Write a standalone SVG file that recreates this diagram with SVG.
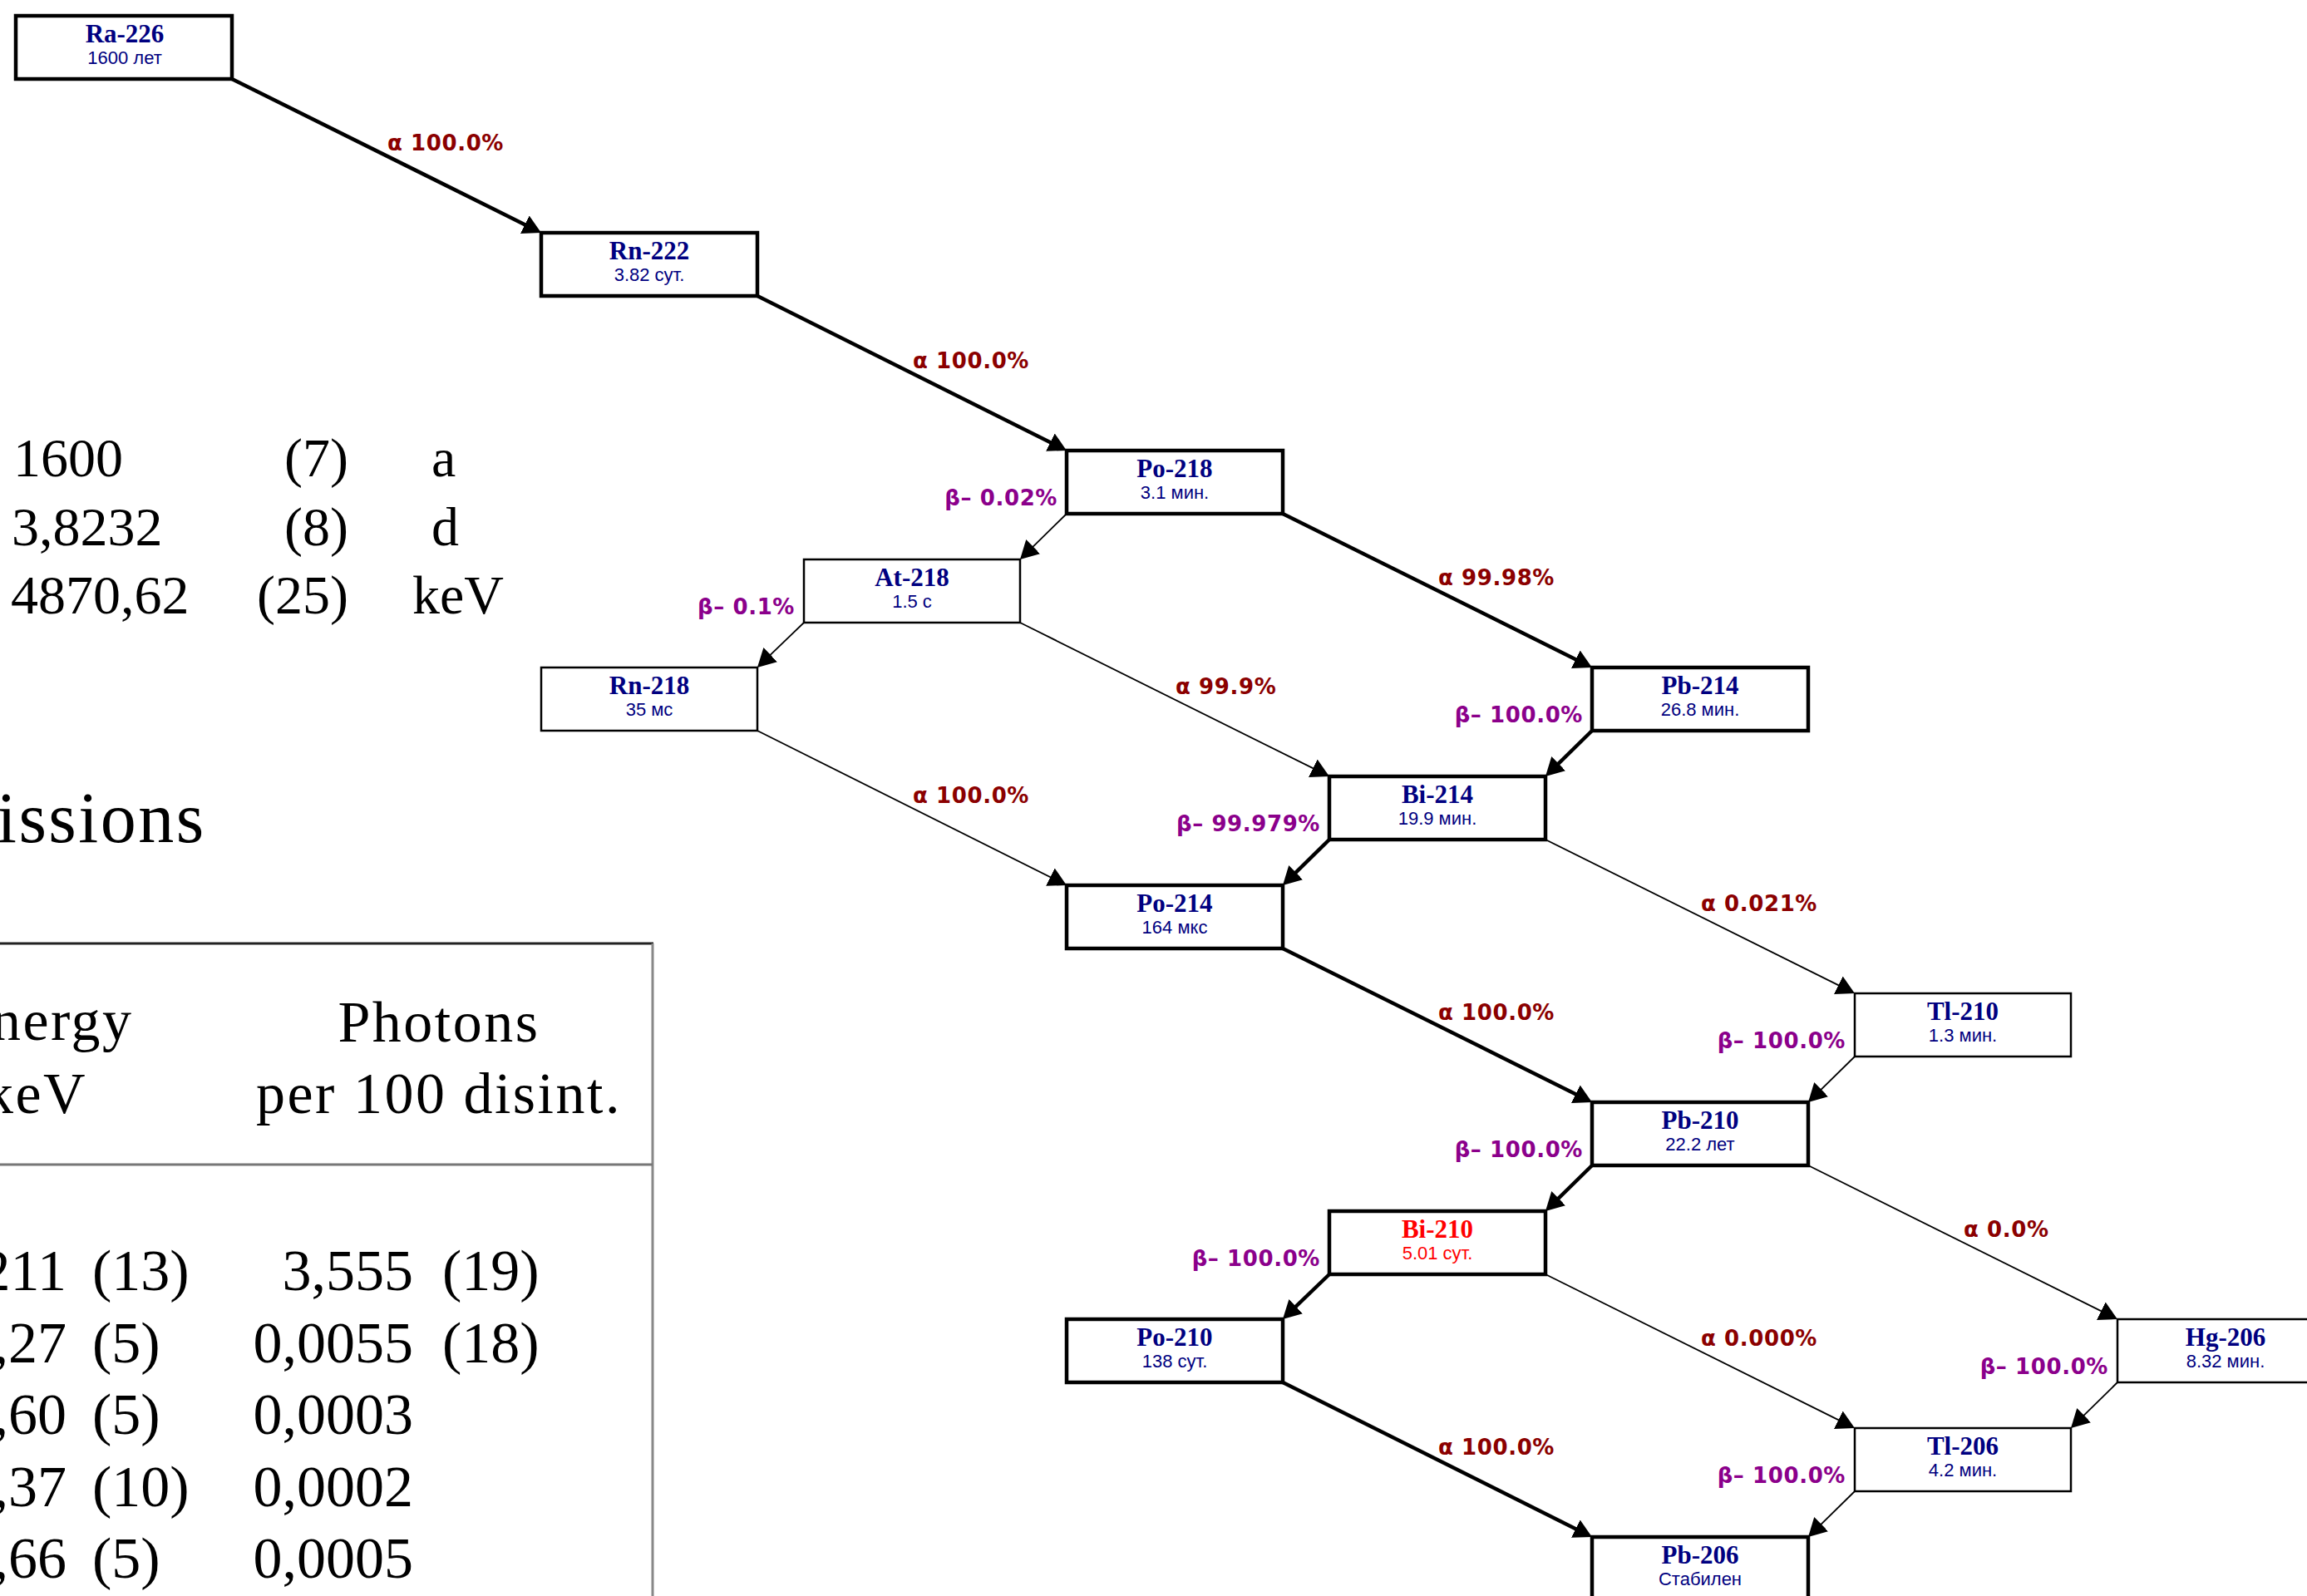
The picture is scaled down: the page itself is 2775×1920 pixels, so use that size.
<svg xmlns="http://www.w3.org/2000/svg" width="2775" height="1920" viewBox="0 0 2775 1920">
<defs>
<marker id="ah" markerUnits="userSpaceOnUse" markerWidth="24" markerHeight="24" refX="14" refY="12" orient="auto" viewBox="0 0 24 24">
<path d="M0,0 L22,12 L0,24 z" fill="#000"/>
</marker>
</defs>
<style>
.bg{fill:#fff}
.box{fill:#fff;stroke:#000}
.thick{stroke-width:4.5}
.thin{stroke-width:2.5}
.nm{font-family:"Liberation Serif",serif;font-weight:bold;font-size:31px;fill:#000080;text-anchor:middle}
.hl{font-family:"Liberation Sans",Arial,sans-serif;font-size:22px;fill:#000080;text-anchor:middle}
.red{fill:#ff0000}
.e{fill:none;stroke:#000;marker-end:url(#ah)}
.ek{stroke-width:4.5}
.et{stroke-width:1.8}
.la{font-family:"DejaVu Sans",sans-serif;font-weight:bold;font-size:26px;fill:#8b0000;letter-spacing:0.6px}
.lb{font-family:"DejaVu Sans",sans-serif;font-weight:bold;font-size:26px;fill:#8b008b;letter-spacing:0.6px;text-anchor:end}
.tx{font-family:"Liberation Serif","Times New Roman",serif;fill:#000}
.t1{font-size:66px}
.t2{font-size:70px}
.w{letter-spacing:2.5px}
.h{font-size:86px;letter-spacing:2.5px}
</style>
<rect class="bg" x="0" y="0" width="2775" height="1920"/>

<g id="background-table">
<text class="tx t1" x="16" y="573">1600</text>
<text class="tx t1" x="419" y="573" text-anchor="end">(7)</text>
<text class="tx t1" x="519" y="573">a</text>
<text class="tx t1" x="14" y="656">3,8232</text>
<text class="tx t1" x="419" y="656" text-anchor="end">(8)</text>
<text class="tx t1" x="519" y="656">d</text>
<text class="tx t1" x="13" y="738">4870,62</text>
<text class="tx t1" x="419" y="738" text-anchor="end">(25)</text>
<text class="tx t1" x="496" y="738">keV</text>
<text class="tx h" x="-4" y="1013">issions</text>
<line x1="0" y1="1135" x2="786" y2="1135" stroke="#222" stroke-width="3"/>
<line x1="785" y1="1135" x2="785" y2="1920" stroke="#888" stroke-width="3"/>
<line x1="0" y1="1401" x2="785" y2="1401" stroke="#777" stroke-width="3"/>
<text class="tx t2 w" x="-10" y="1251">nergy</text>
<text class="tx t2 w" x="-19" y="1339">keV</text>
<text class="tx t2 w" x="528" y="1253" text-anchor="middle">Photons</text>
<text class="tx t2 w" x="528" y="1339" text-anchor="middle">per 100 disint.</text>
<g class="tx t2" text-anchor="end">
<text x="80" y="1552">211</text>
<text x="80" y="1639">,27</text>
<text x="80" y="1725">,60</text>
<text x="80" y="1812">,37</text>
<text x="80" y="1898">,66</text>
<text x="497" y="1552">3,555</text>
<text x="497" y="1639">0,0055</text>
<text x="497" y="1725">0,0003</text>
<text x="497" y="1812">0,0002</text>
<text x="497" y="1898">0,0005</text>
</g>
<g class="tx t2">
<text x="111" y="1552">(13)</text>
<text x="111" y="1639">(5)</text>
<text x="111" y="1725">(5)</text>
<text x="111" y="1812">(10)</text>
<text x="111" y="1898">(5)</text>
<text x="532" y="1552">(19)</text>
<text x="532" y="1639">(18)</text>
</g>
</g>

<g id="connectors">
<path class="e ek" d="M279,95 L643.8,276.4"/>
<path class="e ek" d="M911,356 L1275.8,538.4"/>
<path class="e ek" d="M1543,618 L1907.8,799.4"/>
<path class="e et" d="M1227,749 L1591.8,930.4"/>
<path class="e et" d="M911,879 L1275.8,1061.4"/>
<path class="e et" d="M1859,1010 L2223.8,1191.4"/>
<path class="e ek" d="M1543,1141 L1907.8,1322.4"/>
<path class="e et" d="M2175,1402 L2539.8,1583.4"/>
<path class="e et" d="M1859,1533 L2223.8,1714.4"/>
<path class="e ek" d="M1543,1663 L1907.8,1845.4"/>

<path class="e et" d="M1283,618 L1232.7,667.4"/>
<path class="e et" d="M967,749 L916.7,797.4"/>
<path class="e ek" d="M1915,879 L1864.7,928.4"/>
<path class="e ek" d="M1599,1010 L1548.7,1059.4"/>
<path class="e et" d="M2231,1271 L2180.7,1320.4"/>
<path class="e ek" d="M1915,1402 L1864.7,1451.4"/>
<path class="e ek" d="M1599,1533 L1548.7,1581.4"/>
<path class="e et" d="M2547,1663 L2496.7,1712.4"/>
<path class="e et" d="M2231,1794 L2180.7,1843.4"/>

<text class="la" x="466" y="181">α 100.0%</text>
<text class="la" x="1098" y="443">α 100.0%</text>
<text class="la" x="1730" y="704">α 99.98%</text>
<text class="la" x="1414" y="835">α 99.9%</text>
<text class="la" x="1098" y="966">α 100.0%</text>
<text class="la" x="2046" y="1096">α 0.021%</text>
<text class="la" x="1730" y="1227">α 100.0%</text>
<text class="la" x="2362" y="1488">α 0.0%</text>
<text class="la" x="2046" y="1619">α 0.000%</text>
<text class="la" x="1730" y="1750">α 100.0%</text>

<text class="lb" x="1272" y="608">β– 0.02%</text>
<text class="lb" x="956" y="739">β– 0.1%</text>
<text class="lb" x="1904" y="869">β– 100.0%</text>
<text class="lb" x="1588" y="1000">β– 99.979%</text>
<text class="lb" x="2220" y="1261">β– 100.0%</text>
<text class="lb" x="1904" y="1392">β– 100.0%</text>
<text class="lb" x="1588" y="1523">β– 100.0%</text>
<text class="lb" x="2536" y="1653">β– 100.0%</text>
<text class="lb" x="2220" y="1784">β– 100.0%</text>
</g>

<g id="Ra-226"><rect class="box thick" x="19" y="19" width="260" height="76"/><text class="nm" x="150" y="51">Ra-226</text><text class="hl" x="150" y="77">1600 лет</text></g>
<g id="Rn-222"><rect class="box thick" x="651" y="280" width="260" height="76"/><text class="nm" x="781" y="312">Rn-222</text><text class="hl" x="781" y="338">3.82 сут.</text></g>
<g id="Po-218"><rect class="box thick" x="1283" y="542" width="260" height="76"/><text class="nm" x="1413" y="574">Po-218</text><text class="hl" x="1413" y="600">3.1 мин.</text></g>
<g id="At-218"><rect class="box thin" x="967" y="673" width="260" height="76"/><text class="nm" x="1097" y="705">At-218</text><text class="hl" x="1097" y="731">1.5 с</text></g>
<g id="Rn-218"><rect class="box thin" x="651" y="803" width="260" height="76"/><text class="nm" x="781" y="835">Rn-218</text><text class="hl" x="781" y="861">35 мс</text></g>
<g id="Pb-214"><rect class="box thick" x="1915" y="803" width="260" height="76"/><text class="nm" x="2045" y="835">Pb-214</text><text class="hl" x="2045" y="861">26.8 мин.</text></g>
<g id="Bi-214"><rect class="box thick" x="1599" y="934" width="260" height="76"/><text class="nm" x="1729" y="966">Bi-214</text><text class="hl" x="1729" y="992">19.9 мин.</text></g>
<g id="Po-214"><rect class="box thick" x="1283" y="1065" width="260" height="76"/><text class="nm" x="1413" y="1097">Po-214</text><text class="hl" x="1413" y="1123">164 мкс</text></g>
<g id="Tl-210"><rect class="box thin" x="2231" y="1195" width="260" height="76"/><text class="nm" x="2361" y="1227">Tl-210</text><text class="hl" x="2361" y="1253">1.3 мин.</text></g>
<g id="Pb-210"><rect class="box thick" x="1915" y="1326" width="260" height="76"/><text class="nm" x="2045" y="1358">Pb-210</text><text class="hl" x="2045" y="1384">22.2 лет</text></g>
<g id="Bi-210"><rect class="box thick" x="1599" y="1457" width="260" height="76"/><text class="nm red" x="1729" y="1489">Bi-210</text><text class="hl red" x="1729" y="1515">5.01 сут.</text></g>
<g id="Hg-206"><rect class="box thin" x="2547" y="1587" width="260" height="76"/><text class="nm" x="2677" y="1619">Hg-206</text><text class="hl" x="2677" y="1645">8.32 мин.</text></g>
<g id="Po-210"><rect class="box thick" x="1283" y="1587" width="260" height="76"/><text class="nm" x="1413" y="1619">Po-210</text><text class="hl" x="1413" y="1645">138 сут.</text></g>
<g id="Tl-206"><rect class="box thin" x="2231" y="1718" width="260" height="76"/><text class="nm" x="2361" y="1750">Tl-206</text><text class="hl" x="2361" y="1776">4.2 мин.</text></g>
<g id="Pb-206"><rect class="box thick" x="1915" y="1849" width="260" height="76"/><text class="nm" x="2045" y="1881">Pb-206</text><text class="hl" x="2045" y="1907">Стабилен</text></g>
</svg>
